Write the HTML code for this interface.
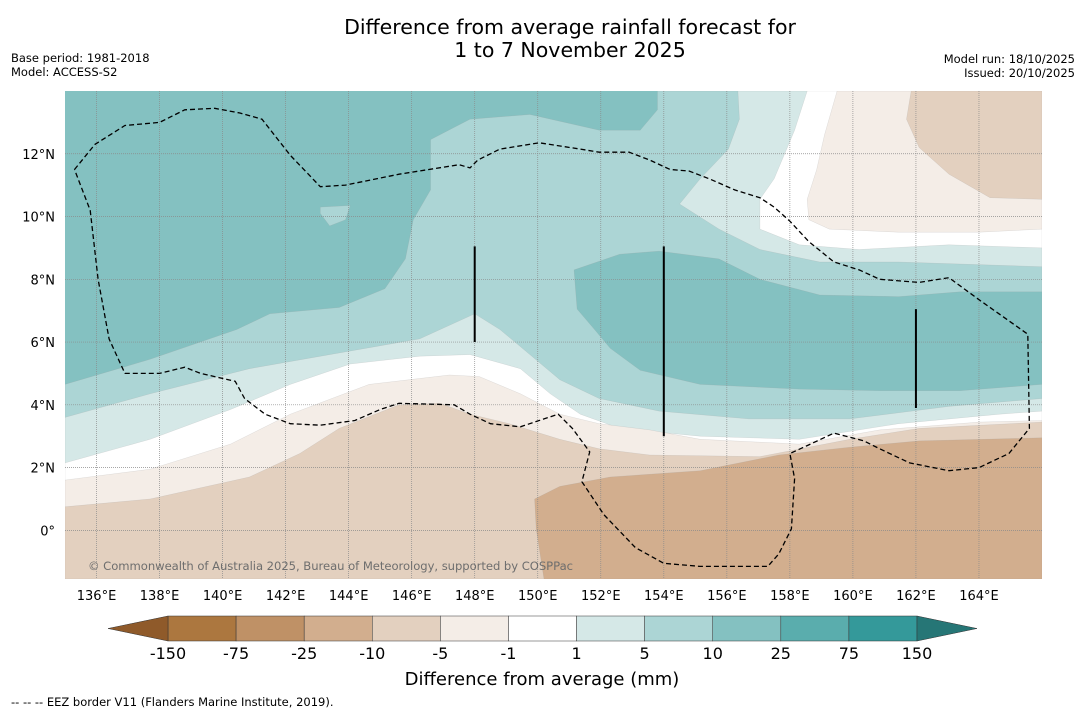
<!DOCTYPE html>
<html><head><meta charset="utf-8">
<style>
body{margin:0;background:#fff;width:1085px;height:713px;overflow:hidden;font-family:"Liberation Sans","DejaVu Sans",sans-serif;}
svg text{font-family:"DejaVu Sans","Liberation Sans",sans-serif;}
</style></head>
<body>
<svg id="chart" width="1085" height="713" viewBox="0 0 1085 713" xmlns="http://www.w3.org/2000/svg">
<text x="570" y="34" font-size="20.5" text-anchor="middle">Difference from average rainfall forecast for</text>
<text x="570" y="57" font-size="20.5" text-anchor="middle">1 to 7 November 2025</text>
<text x="11" y="62" font-size="11.5">Base period: 1981-2018</text>
<text x="11" y="76" font-size="11.5">Model: ACCESS-S2</text>
<text x="1075" y="63" font-size="11.5" text-anchor="end">Model run: 18/10/2025</text>
<text x="1075" y="77" font-size="11.5" text-anchor="end">Issued: 20/10/2025</text>
<defs><clipPath id="mapclip"><rect x="65" y="91" width="977" height="488"/></clipPath></defs>
<g id="map" clip-path="url(#mapclip)"></g>
<g id="axes"></g>
<g id="cbar"></g>
<text x="542" y="685" font-size="18" text-anchor="middle">Difference from average (mm)</text>
<text x="11" y="706" font-size="11.5">--  --  -- EEZ border V11 (Flanders Marine Institute, 2019).</text>
</svg>
<script>
const lonMin=135.0,lonMax=166.0,latMin=-1.55,latMax=14.0;
const X0=65,X1=1042,Y0=91,Y1=579;
function xs(lon){return X0+(lon-lonMin)/(lonMax-lonMin)*(X1-X0);}
function ys(lat){return Y0+(latMax-lat)/(latMax-latMin)*(Y1-Y0);}
const lonTicks=[136,138,140,142,144,146,148,150,152,154,156,158,160,162,164];
const latTicks=[0,2,4,6,8,10,12];
const cbarLabels=["-150","-75","-25","-10","-5","-1","1","5","10","25","75","150"];
const cbarColors=["#ac773f","#bf9166","#d2ae8e","#e3d0bf","#f4ede7","#ffffff","#d5e8e7","#acd5d5","#84c1c1","#5aadad","#34999a"];
const cbarEndColors=["#8f5a2a","#267676"];
const bgLevelColor="#84c1c1";
const polyA=[[153.8,14],[166,14],[166,-1.55],[135,-1.55],[135,4.65],[137.7,5.45],[140.45,6.4],[141.5,6.9],[143.7,7.1],[145.15,7.7],[145.8,8.65],[146.05,9.9],[146.6,10.85],[146.6,12.45],[147.85,13.1],[149.75,13.25],[151.95,12.75],[153.25,12.75],[153.8,13.4]];
const polyPatch=[[143.1,10.3],[144.05,10.35],[143.9,9.9],[143.4,9.7],[143.1,10.1]];
const polyBlob=[[151.15,8.3],[152.6,8.8],[153.85,8.9],[155.75,8.65],[157.05,8.0],[158.95,7.5],[161.45,7.45],[163.4,7.6],[166,7.6],[166,4.65],[163.4,4.45],[160.85,4.45],[158.3,4.5],[155.15,4.65],[153.25,5.1],[152.3,5.8],[151.8,6.4],[151.25,7.05]];
const polyB1=[[156.35,14],[166,14],[166,8.4],[161.45,8.55],[158.95,8.55],[157.05,8.95],[155.75,9.6],[154.5,10.4],[155.15,11.2],[156.05,12.15],[156.4,13.1]];
const polyB2=[[135,3.6],[137.7,4.35],[140.85,5.15],[143.4,5.6],[146.25,6.1],[148.0,6.9],[148.8,6.4],[149.75,5.6],[150.7,4.8],[151.95,4.2],[153.85,3.8],[156.7,3.55],[159.9,3.55],[163.05,3.95],[166,4.2],[166,-1.55],[135,-1.55]];
const polyW1=[[158.55,14],[166,14],[166,9.0],[163.05,9.1],[160.2,8.95],[158.3,9.1],[157.05,9.6],[157.05,10.55],[157.5,11.2],[158.15,12.75]];
const polyW2=[[135,2.15],[137.7,2.9],[140.25,3.85],[142.15,4.65],[144.05,5.3],[146.25,5.55],[147.85,5.6],[149.45,5.15],[150.4,4.35],[151.35,3.7],[152.6,3.25],[155.15,3.0],[158.3,2.9],[161.45,3.4],[164.65,3.7],[166,3.8],[166,-1.55],[135,-1.55]];
const polyP1=[[159.5,14],[166,14],[166,9.6],[164.0,9.5],[161.45,9.5],[159.25,9.6],[158.6,9.9],[158.55,10.55],[158.85,11.5],[159.1,12.6]];
const polyP2=[[135,1.6],[137.7,1.95],[140.25,2.75],[142.15,3.7],[144.65,4.65],[147.2,4.95],[148.15,4.9],[149.45,4.35],[150.7,3.7],[151.95,3.4],[153.55,3.2],[155.15,2.9],[158.3,2.75],[160.85,3.2],[164.0,3.45],[166,3.5],[166,-1.55],[135,-1.55]];
const polyT1=[[161.85,14],[166,14],[166,10.55],[164.35,10.6],[163.05,11.35],[162.1,12.2],[161.7,13.1],[161.8,13.7]];
const polyT2=[[135,0.75],[137.7,1.0],[140.85,1.7],[142.45,2.45],[143.7,3.25],[145.6,4.0],[146.9,4.05],[147.85,3.7],[149.1,3.4],[150.7,2.9],[151.95,2.6],[153.55,2.4],[157.05,2.35],[159.9,2.9],[162.1,3.25],[166,3.45],[166,-1.55],[135,-1.55]];
const polyD=[[149.9,1.0],[150.7,1.4],[152.3,1.7],[155.15,1.9],[157.65,2.4],[159.9,2.65],[162.1,2.85],[166,2.95],[166,-1.55],[150.2,-1.55],[149.95,0.05]];
const eezLine=[[135.3,11.5],[135.95,12.3],[136.9,12.9],[138.0,13.0],[138.8,13.4],[139.75,13.45],[140.55,13.3],[141.25,13.1],[142.15,11.95],[143.1,10.95],[143.9,11.0],[145.6,11.35],[147.5,11.65],[147.85,11.55],[148.1,11.8],[148.8,12.15],[150.05,12.35],[151.35,12.15],[151.95,12.05],[152.9,12.05],[153.55,11.8],[154.2,11.5],[154.8,11.45],[155.45,11.2],[156.25,10.85],[157.05,10.6],[157.5,10.3],[158.0,9.85],[158.6,9.2],[159.4,8.55],[160.2,8.3],[160.85,8.0],[162.1,7.9],[163.05,8.05],[164.0,7.35],[165.55,6.25],[165.6,3.25],[164.95,2.45],[164.0,2.0],[163.05,1.9],[161.8,2.15],[160.85,2.6],[160.35,2.85],[159.4,3.1],[158.55,2.7],[158.0,2.45],[158.15,1.65],[158.05,0.05],[157.65,-0.75],[157.3,-1.15],[155.15,-1.15],[154.0,-1.05],[153.1,-0.55],[152.1,0.5],[151.4,1.55],[151.65,2.5],[151.1,3.25],[150.65,3.7],[150.2,3.55],[149.45,3.3],[148.5,3.4],[147.85,3.7],[147.35,4.0],[145.6,4.05],[145.0,3.85],[144.2,3.5],[143.1,3.35],[142.15,3.4],[141.35,3.7],[140.7,4.2],[140.4,4.75],[139.75,4.9],[139.3,5.0],[138.8,5.2],[138.0,5.0],[136.9,5.0],[136.4,6.1],[136.05,8.0],[135.8,10.2],[135.3,11.5]];
const segLons=[148,154,162];
const segTop=[9.05,9.05,7.05];
const segBottom=[6.0,3.0,3.9];

const NS="http://www.w3.org/2000/svg";
function mk(tag,attrs,parent){const e=document.createElementNS(NS,tag);for(const k in attrs)e.setAttribute(k,attrs[k]);parent.appendChild(e);return e;}
function pts(p){return p.map(q=>xs(q[0]).toFixed(1)+","+ys(q[1]).toFixed(1)).join(" ");}
const map=document.getElementById('map');
let bg=mk('rect',{x:X0,y:Y0,width:X1-X0,height:Y1-Y0,fill:bgLevelColor},map);


const layers=[[polyA,"#acd5d5","contour-5-to-10"],[polyPatch,"#acd5d5","contour-5-to-10-patch"],[polyBlob,"#84c1c1","contour-10-to-25-east"],[polyB1,"#d5e8e7","contour-1-to-5-north"],[polyB2,"#d5e8e7","contour-1-to-5-south"],[polyW1,"#ffffff","contour-near-zero-north"],[polyW2,"#ffffff","contour-near-zero-south"],[polyP1,"#f4ede7","contour-minus5-to-minus1-north"],[polyP2,"#f4ede7","contour-minus5-to-minus1-south"],[polyT1,"#e3d0bf","contour-minus10-to-minus5-north"],[polyT2,"#e3d0bf","contour-minus10-to-minus5-south"],[polyD,"#d2ae8e","contour-minus25-to-minus10"]];
layers.forEach(l=>{const e=mk('polygon',{points:pts(l[0]),fill:l[1],stroke:"#999",'stroke-width':0.3,'stroke-opacity':0.5,'stroke-linejoin':'round'},map);

});
lonTicks.forEach(v=>{const e=mk('line',{x1:xs(v),x2:xs(v),y1:Y0,y2:Y1,stroke:"#8a8a8a",'stroke-width':0.7,'stroke-dasharray':"1,1"},map);

});
latTicks.forEach(v=>{const e=mk('line',{x1:X0,x2:X1,y1:ys(v),y2:ys(v),stroke:"#8a8a8a",'stroke-width':0.7,'stroke-dasharray':"1,1"},map);

});
const eez=mk('polyline',{points:pts(eezLine),fill:"none",stroke:"#000",'stroke-width':1.3,'stroke-dasharray':"5,3"},map);


segLons.forEach((v,i)=>{const e=mk('line',{x1:xs(v),x2:xs(v),y1:ys(segTop[i]),y2:ys(segBottom[i]),stroke:"#000",'stroke-width':2},map);

});
const cp=mk('text',{x:88,y:570,'font-size':11.6,fill:"#6e6e6e",textLength:485},map);
cp.textContent="© Commonwealth of Australia 2025, Bureau of Meteorology, supported by COSPPac";


const axes=document.getElementById('axes');
lonTicks.forEach(v=>{const t=mk('text',{x:xs(v),y:600,'font-size':13,'text-anchor':"middle"},axes);t.textContent=v+"°E";

});
latTicks.forEach(v=>{const t=mk('text',{x:55,y:ys(v)+5,'font-size':13,'text-anchor':"end"},axes);t.textContent=v===0?"0°":v+"°N";

});
const cb=document.getElementById('cbar');
const cbX0=168,cbX1=917,cbY=616,cbH=25,n=cbarColors.length,w=(cbX1-cbX0)/n;
cbarColors.forEach((c,i)=>{const r=mk('rect',{x:cbX0+i*w,y:cbY,width:w,height:cbH,fill:c,stroke:"#333",'stroke-width':0.5},cb);

});
const tl=mk('polygon',{points:`${cbX0},${cbY} 108,${cbY+cbH/2} ${cbX0},${cbY+cbH}`,fill:cbarEndColors[0],stroke:"#333",'stroke-width':0.5},cb);


const tr=mk('polygon',{points:`${cbX1},${cbY} 977,${cbY+cbH/2} ${cbX1},${cbY+cbH}`,fill:cbarEndColors[1],stroke:"#333",'stroke-width':0.5},cb);


cbarLabels.forEach((s,i)=>{const t=mk('text',{x:cbX0+i*w,y:659,'font-size':16,'text-anchor':"middle"},cb);t.textContent=s;

});
</script>
</body></html>
